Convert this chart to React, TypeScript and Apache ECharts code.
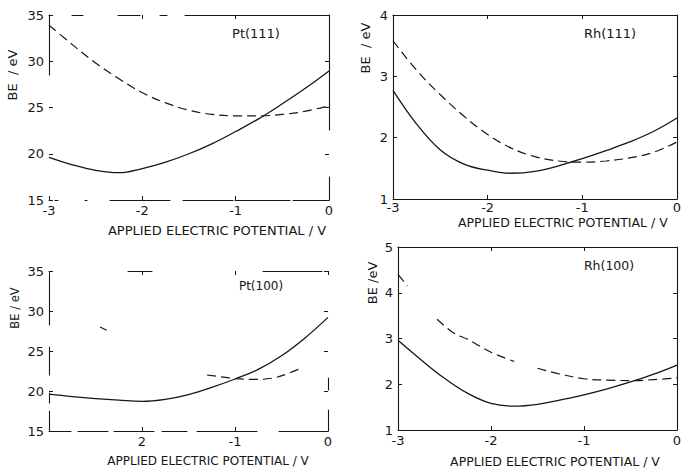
import React, { useEffect, useRef } from "react";
import * as echarts from "echarts";

// ---- data ----
const xTicks = [-3, -2, -1, 0];
const xStd = [-3, -2.75, -2.5, -2.25, -2, -1.75, -1.5, -1.25, -1, -0.75, -0.5, -0.25, 0];

// Pt(111)
const pt111Solid = [19.6, 18.8, 18.2, 17.95, 18.4, 19.1, 20.0, 21.1, 22.4, 23.8, 25.4, 27.1, 28.95];
const pt111Dashed = [33.9, 31.8, 29.8, 28.1, 26.6, 25.5, 24.7, 24.25, 24.1, 24.1, 24.25, 24.6, 25.2];

// Rh(111)
const rh111Solid = [2.77, 2.22, 1.8, 1.57, 1.47, 1.42, 1.45, 1.54, 1.66, 1.79, 1.93, 2.1, 2.32];
const rh111Dashed = [3.58, 3.1, 2.7, 2.35, 2.05, 1.83, 1.69, 1.62, 1.6, 1.62, 1.67, 1.76, 1.93];

// Pt(100)
const pt100Solid = [19.6, 19.3, 19.05, 18.85, 18.7, 18.95, 19.55, 20.45, 21.5, 22.7, 24.4, 26.6, 29.2];
const pt100DashedX = [-2.45, -2.38, null, -1.3, -1.1, -1.0, -0.8, -0.6, -0.45, -0.3];
const pt100DashedY = [28.0, 27.6, null, 22.0, 21.7, 21.55, 21.45, 21.6, 22.1, 22.8];

// Rh(100)
const rh100Solid = [2.96, 2.53, 2.13, 1.8, 1.58, 1.52, 1.56, 1.66, 1.77, 1.9, 2.05, 2.22, 2.42];
const rh100DashedX = [-3, -2.9, null, -2.58, -2.4, -2.25, -2.0, -1.75, null, -1.5, -1.25, -1.0, -0.75, -0.5, -0.25, 0];
const rh100DashedY = [4.4, 4.15, null, 3.42, 3.12, 2.98, 2.7, 2.5, null, 2.35, 2.22, 2.12, 2.09, 2.08, 2.1, 2.14];

// tick labels
const ptYTickValues = [15, 20, 25, 30, 35];
const pt100XTickLabels = ["", "2", "-1", "0"];
const panelLabels = ["Pt(111)", "Rh(111)", "Pt(100)", "Rh(100)"];
const xTitle = "APPLIED ELECTRIC POTENTIAL / V";

const zip = (xs: (number | null)[], ys: (number | null)[]) =>
  xs.map((x, i) => (x === null || ys[i] === null ? ["-", "-"] : [x, ys[i]]));

const INK = "#161616";
const FONT = "DejaVu Sans";

export default function App() {
  const ref = useRef<HTMLDivElement>(null);
  useEffect(() => {
    if (!ref.current) return;
    const chart = echarts.init(ref.current, undefined, { renderer: "svg" });

    const grids = [
      { left: 49, top: 15, width: 280, height: 185 },
      { left: 393, top: 15, width: 284, height: 184 },
      { left: 49, top: 271, width: 279, height: 160 },
      { left: 398, top: 247, width: 279, height: 183 },
    ];
    const yRanges = [
      { min: 15, max: 35, interval: 5 },
      { min: 1, max: 4, interval: 1 },
      { min: 15, max: 35, interval: 5 },
      { min: 1, max: 5, interval: 1 },
    ];
    // frame line styles: [bottom, top, left, right]
    const solid = "solid" as any;
    const frames: any[][] = [
      [
        [0, 6, 3, 27, 2, 23, 60, 13, 50, 2, 55, 3, 40, 0],
        [0, 23, 11, 35, 22, 20, 7, 18, 150, 0],
        [0, 125, 60, 0],
        [23, 47, 115, 0],
      ],
      [solid, solid, solid, solid],
      [
        [22, 7, 30, 6, 40, 8, 25, 10, 60, 22, 40, 0],
        [0, 79, 24, 111, 59, 10],
        [20, 8, 10, 18, 28, 22, 50, 10],
        [21, 20, 12, 200],
      ],
      [solid, solid, solid, solid],
    ];

    const xAxis: any[] = [];
    const yAxis: any[] = [];
    grids.forEach((g, i) => {
      const fr = frames[i];
      xAxis.push({
        type: "value",
        gridIndex: i,
        position: "bottom",
        min: -3,
        max: 0,
        interval: 1,
        splitLine: { show: false },
        axisLine: { onZero: false, lineStyle: { color: INK, width: 1.1, type: fr[0] } },
        axisTick: { inside: true, length: 4, lineStyle: { color: INK } },
        axisLabel: {
          color: INK,
          fontFamily: FONT,
          fontSize: 13,
          margin: i === 1 ? 2 : 4,
          formatter: (v: number) => {
            const k = xTicks.indexOf(v);
            if (i === 2) return k >= 0 ? pt100XTickLabels[k] : "";
            return String(v);
          },
        },
      });
      xAxis.push({
        type: "value",
        gridIndex: i,
        position: "top",
        min: -3,
        max: 0,
        interval: 1,
        splitLine: { show: false },
        axisLine: { onZero: false, lineStyle: { color: INK, width: 1.1, type: fr[1] } },
        axisTick: { inside: true, length: 4, lineStyle: { color: INK } },
        axisLabel: { show: false },
      });
      yAxis.push({
        type: "value",
        gridIndex: i,
        position: "left",
        ...yRanges[i],
        splitLine: { show: false },
        axisLine: { onZero: false, lineStyle: { color: INK, width: 1.1, type: fr[2] } },
        axisTick: { inside: true, length: 4, lineStyle: { color: INK } },
        axisLabel: {
          color: INK,
          fontFamily: FONT,
          fontSize: 13,
          margin: 5,
          formatter: (v: number) =>
            i === 0 || i === 2 ? (ptYTickValues.indexOf(v) >= 0 ? String(v) : "") : String(v),
        },
      });
      yAxis.push({
        type: "value",
        gridIndex: i,
        position: "right",
        ...yRanges[i],
        splitLine: { show: false },
        axisLine: { onZero: false, lineStyle: { color: INK, width: 1.1, type: fr[3] } },
        axisTick: { inside: true, length: 4, lineStyle: { color: INK } },
        axisLabel: { show: false },
      });
    });

    const solidStyle = { color: INK, width: 1.3, type: "solid" };
    const dashStyle = { color: INK, width: 1.2, type: [9, 5] };
    const mk = (i: number, data: any[], style: any, smooth = 0.4) => ({
      type: "line",
      xAxisIndex: i * 2,
      yAxisIndex: i * 2,
      data,
      smooth,
      showSymbol: false,
      symbol: "none",
      connectNulls: false,
      lineStyle: style,
      silent: true,
    });

    const series = [
      mk(0, zip(xStd, pt111Solid), solidStyle),
      mk(0, zip(xStd, pt111Dashed), dashStyle),
      mk(1, zip(xStd, rh111Solid), solidStyle),
      mk(1, zip(xStd, rh111Dashed), dashStyle),
      mk(2, zip(xStd, pt100Solid), solidStyle),
      mk(2, zip(pt100DashedX, pt100DashedY), dashStyle),
      mk(3, zip(xStd, rh100Solid), solidStyle),
      mk(3, zip(rh100DashedX, rh100DashedY), dashStyle),
    ];

    const txt = (text: string, x: number, y: number, size: number, extra: any = {}) => ({
      type: "text",
      x,
      y,
      silent: true,
      ...extra,
      style: {
        text,
        fill: INK,
        font: `${size}px "${FONT}"`,
        textAlign: extra.align || "center",
        textVerticalAlign: "middle",
        verticalAlign: "middle",
      },
    });

    const graphic = [
      txt(xTitle, 217, 230, 13),
      txt(xTitle, 458, 222, 12.5, { align: "left" }),
      txt(xTitle, 208, 461, 12),
      txt(xTitle, 555, 461, 12.5),
      txt("BE  / eV", 12, 75, 13, { rotation: Math.PI / 2 }),
      txt("BE  / eV", 365, 48, 13, { rotation: Math.PI / 2 }),
      txt("BE / eV", 15, 308, 11.5, { rotation: Math.PI / 2 }),
      txt("BE /eV", 372, 283, 13, { rotation: Math.PI / 2 }),
      txt(panelLabels[0], 256, 33, 13),
      txt(panelLabels[1], 610, 33, 13),
      txt(panelLabels[2], 261, 286, 12),
      txt(panelLabels[3], 609, 265, 12.5),
    ];

    chart.setOption({
      animation: false,
      backgroundColor: "#ffffff",
      grid: grids.map((g) => ({ ...g, containLabel: false })),
      xAxis,
      yAxis,
      series,
      graphic,
    });
    return () => chart.dispose();
  }, []);
  return (
    <div
      ref={ref}
      style={{ position: "fixed", left: 0, top: 0, width: 685, height: 469, background: "#fff" }}
    />
  );
}
